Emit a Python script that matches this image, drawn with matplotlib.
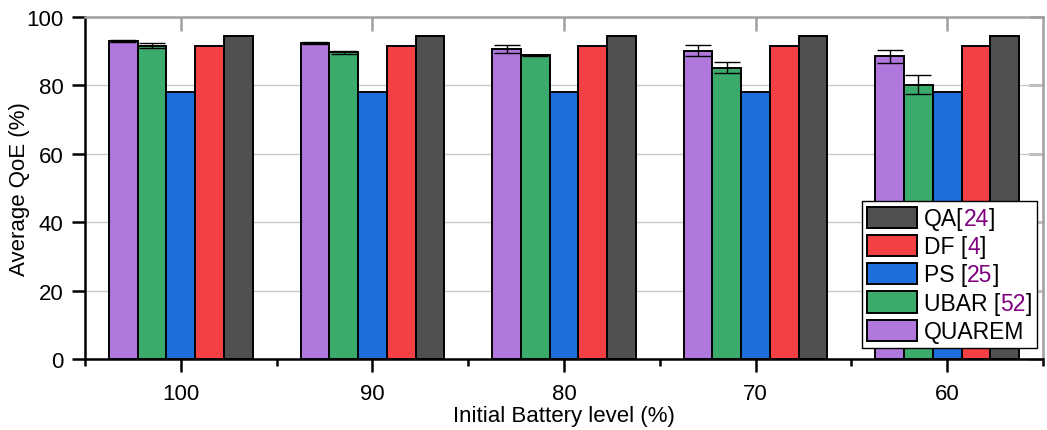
import matplotlib
matplotlib.use('Agg')
import matplotlib.pyplot as plt
from matplotlib.patches import Patch
from matplotlib.ticker import FixedLocator
import numpy as np

plt.rcParams['font.family'] = ['Liberation Sans', 'DejaVu Sans']

# 資料
battery_levels = ['100', '90', '80', '70', '60']
quarem = [93.1, 92.4, 90.7, 90.2, 88.5]
quarem_err = [0.3, 0.3, 1.1, 1.6, 1.9]
ubar = [91.6, 89.7, 88.8, 85.2, 80.2]
ubar_err = [0.8, 0.5, 0.2, 1.5, 2.7]
ps = [78.2, 78.2, 78.2, 78.2, 78.2]
df = [91.4, 91.4, 91.4, 91.4, 91.4]
qa = [94.3, 94.3, 94.3, 94.3, 94.3]

c_quarem = '#b077dd'
c_ubar = '#3aab6b'
c_ps = '#1e6fdc'
c_df = '#f24044'
c_qa = '#505050'
cite_color = '#800080'

fs = 16  # 字體大小

fig = plt.figure(figsize=(10.47, 4.31), dpi=100)
ax = fig.add_axes([85 / 1047, 1 - 360 / 431, 958 / 1047, 342 / 431])

x = np.arange(len(battery_levels))
w = 0.15
ekw = dict(ecolor='black', elinewidth=1.0, capsize=9.5, capthick=1.0)
series = [
    (quarem, c_quarem, quarem_err),
    (ubar, c_ubar, ubar_err),
    (ps, c_ps, None),
    (df, c_df, None),
    (qa, c_qa, None),
]
for i, (vals, col, err) in enumerate(series):
    ax.bar(x + (i - 2) * w, vals, w, color=col, edgecolor='black', linewidth=1.4,
           yerr=err, error_kw=ekw, zorder=3)

ax.set_xlim(-0.5, 4.5)
ax.set_ylim(0, 100)
ax.set_xticks(x)
ax.set_xticklabels(battery_levels)
ax.xaxis.set_minor_locator(FixedLocator(np.arange(-0.5, 5.0, 1.0)))
ax.set_yticks(range(0, 101, 20))
ax.grid(axis='y', color='#c8c8c8', linewidth=1.0, zorder=0)
ax.set_axisbelow(True)

# 左、下軸黑色；上、右軸灰色
for s in ['left', 'bottom']:
    ax.spines[s].set_color('black')
    ax.spines[s].set_linewidth(1.8)
for s in ['top', 'right']:
    ax.spines[s].set_color('#a0a0a0')
    ax.spines[s].set_linewidth(1.8)

ax.tick_params(axis='both', which='major', direction='out', length=9.5, width=1.8,
               labelsize=fs, color='black', pad=6)
ax.tick_params(axis='x', which='major', pad=8)
ax.tick_params(axis='x', which='minor', direction='out', length=5, width=1.8, color='black')

# 上、右側灰色內刻度
ax_top = ax.secondary_xaxis('top')
ax_top.set_xticks(x)
ax_top.set_xticklabels([])
ax_top.tick_params(direction='in', length=10, width=1.8, color='#a0a0a0')
ax_top.spines['top'].set_visible(False)
ax_right = ax.secondary_yaxis('right')
ax_right.set_yticks(range(0, 101, 20))
ax_right.set_yticklabels([])
ax_right.tick_params(direction='in', length=10, width=1.8, color='#a0a0a0')
ax_right.spines['right'].set_visible(False)

ax.set_xlabel('Initial Battery level (%)', fontsize=fs, labelpad=0.5)
ax.set_ylabel('Average QoE (%)', fontsize=fs, labelpad=-3)

# 圖例（引用編號為紫色）
lfs = 16.5
leg_parts = [
    ('QA[', '24', ']', c_qa),
    ('DF [', '4', ']', c_df),
    ('PS [', '25', ']', c_ps),
    ('UBAR [', '52', ']', c_ubar),
    ('QUAREM', '', '', c_quarem),
]
handles = [Patch(facecolor=p[3], edgecolor='black', linewidth=1.4) for p in leg_parts]
labels = [p[0] + p[1] + p[2] for p in leg_parts]
leg = ax.legend(handles, labels, loc='lower right', bbox_to_anchor=(0.9937, 0.032),
                borderaxespad=0, fontsize=lfs, frameon=True, fancybox=False,
                edgecolor='black', framealpha=1, handlelength=2.2, handleheight=1.05,
                labelspacing=0.21, handletextpad=0.3, borderpad=0.22)
leg.get_frame().set_linewidth(1.0)
leg.set_zorder(5)
for t, (pre, num, post, _) in zip(leg.get_texts(), leg_parts):
    t.set_alpha(0)
    a1 = ax.annotate(pre, xy=(0, 0), xycoords=t, ha='left', va='bottom',
                     fontsize=lfs, color='black', zorder=6, annotation_clip=False)
    if num:
        a2 = ax.annotate(num, xy=(1, 0), xycoords=a1, ha='left', va='bottom',
                         fontsize=lfs, color=cite_color, zorder=6, annotation_clip=False)
        ax.annotate(post, xy=(1, 0), xycoords=a2, ha='left', va='bottom',
                    fontsize=lfs, color='black', zorder=6, annotation_clip=False)

fig.savefig('out.png', dpi=100)
